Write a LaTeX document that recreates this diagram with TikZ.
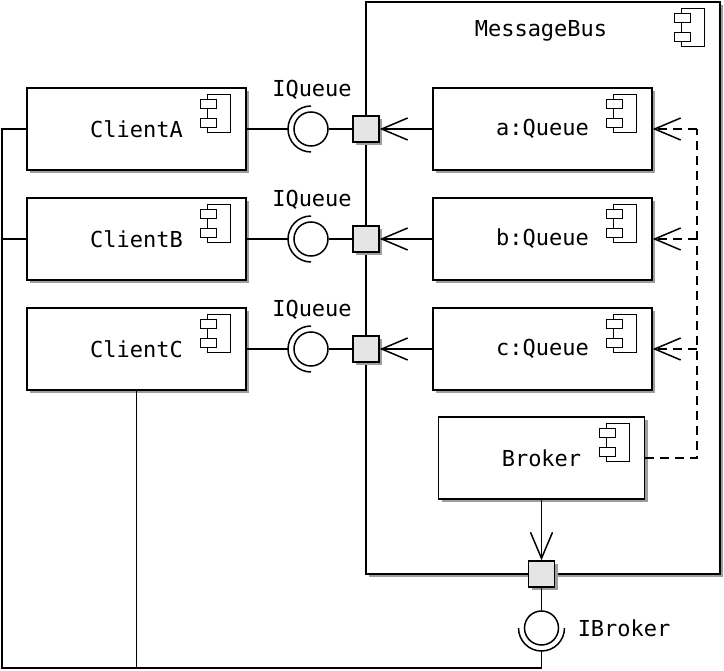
\documentclass[tikz,border=0pt]{standalone}
\usepackage{fontspec}
\setmonofont{DejaVu Sans Mono}
\usetikzlibrary{arrows.meta,shadows}
\newcommand\compicon[1]{%
  \begin{scope}[shift={(#1.north east)}, line width=1.2pt]
    \draw[fill=white] (-39,7) rectangle (-16,45);
    \draw[fill=white] (-46,12) rectangle (-30,21);
    \draw[fill=white] (-46,31) rectangle (-30,40);
  \end{scope}}
\begin{document}
\begin{tikzpicture}[x=1pt,y=-1pt,line width=1.5pt,
  shad/.style={general shadow={fill=black!38, shadow xshift=3pt, shadow yshift=-3pt}},
  comp/.style={draw, fill=white, shad, minimum width=219pt, minimum height=82pt, inner sep=0pt,
    font=\ttfamily\fontsize{22}{26}\selectfont},
  txt/.style={inner sep=0pt, font=\ttfamily\fontsize{22}{26}\selectfont},
  port/.style={draw, fill=black!10, shad, minimum size=26pt, inner sep=0pt},
  ball/.style={circle, draw, fill=white, minimum size=34pt, inner sep=0pt},
  barb/.style={-{Straight Barb[length=26pt,width=22pt]}},
  dep/.style={dash pattern=on 9pt off 6pt}]
\useasboundingbox (0,0) rectangle (724,671);

% MessageBus container
\node[draw, fill=white, shad, minimum width=354pt, minimum height=572pt, inner sep=0pt] (bus) at (543,288) {};
\node[txt, anchor=base] (busname) at (541,37) {MessageBus};
\compicon{bus}

% clients
\node[comp] (clientA) at (136.5,129) {ClientA};
\node[comp] (clientB) at (136.5,239) {ClientB};
\node[comp] (clientC) at (136.5,349) {ClientC};
\compicon{clientA}\compicon{clientB}\compicon{clientC}

% queues
\node[comp] (qA) at (542.5,129) {a:Queue};
\node[comp] (qB) at (542.5,239) {b:Queue};
\node[comp] (qC) at (542.5,349) {c:Queue};
\compicon{qA}\compicon{qB}\compicon{qC}

% broker
\node[comp, minimum width=206pt, minimum height=82pt] (broker) at (541.5,458) {Broker};
\compicon{broker}

% ports
\node[port] (pA) at (366,129) {};
\node[port] (pB) at (366,239) {};
\node[port] (pC) at (366,349) {};
\node[port] (pBr) at (541.5,574) {};

% provided interfaces (balls)
\node[ball] (bA) at (311,129) {};
\node[ball] (bB) at (311,239) {};
\node[ball] (bC) at (311,349) {};
\node[ball] (bBr) at (541.5,628) {};

% sockets
\foreach \b in {bA,bB,bC}{
  \draw (\b.center) ++(0pt,23pt) arc[start angle=90, end angle=270, radius=23pt];
  \coordinate (s\b) at ([xshift=-23pt]\b.center);
}
\draw (bBr.center) ++(-23pt,0pt) arc[start angle=180, end angle=360, radius=23pt];
\coordinate (sBr) at ([yshift=-23pt]bBr.center);

% labels
\node[txt, anchor=base] (lA) at (312,97) {IQueue};
\node[txt, anchor=base] (lB) at (312,207) {IQueue};
\node[txt, anchor=base] (lC) at (312,317) {IQueue};
\node[txt, anchor=base west] (lBr) at (577,636) {IBroker};

% client to socket, ball to port
\draw (clientA.east) -- (sbA);
\draw (clientB.east) -- (sbB);
\draw (clientC.east) -- (sbC);
\draw (bA.east) -- (pA.west);
\draw (bB.east) -- (pB.west);
\draw (bC.east) -- (pC.west);

% delegation arrows
\draw[barb] (qA.west) -- (pA.east);
\draw[barb] (qB.west) -- (pB.east);
\draw[barb] (qC.west) -- (pC.east);
\draw[barb] (broker.south) -- (pBr.north);
\draw (pBr.south) -- (bBr.north);

% dependencies
\coordinate (d0) at (697,458);
\coordinate (dA) at (697,129);
\coordinate (dB) at (697,239);
\coordinate (dC) at (697,349);
\draw[dep] (broker.east) -- (d0) -- (dA);
\draw[dep,barb] (dA) -- (qA.east);
\draw[dep,barb] (dB) -- (qB.east);
\draw[dep,barb] (dC) -- (qC.east);

% required IBroker wiring
\coordinate (L1) at (2,129);
\coordinate (L3) at (2,668);
\draw (clientA.west) -- (L1) -- (L3) -| (sBr);
\draw (clientB.west) -- (clientB.west -| L1);
\draw (clientC.south) -- (clientC.south |- L3);
\end{tikzpicture}
\end{document}
